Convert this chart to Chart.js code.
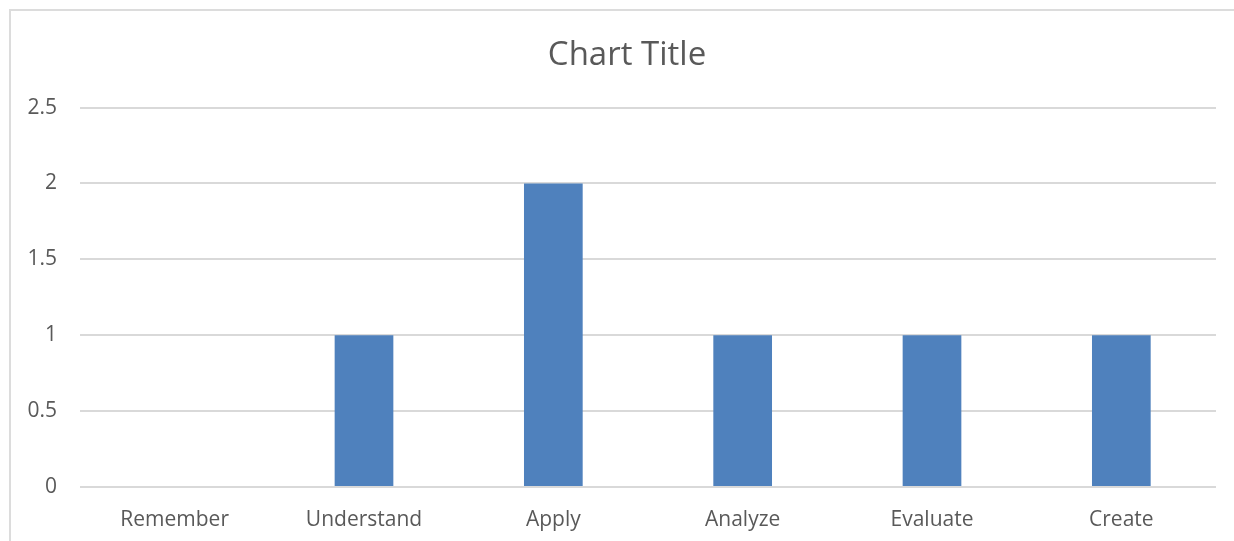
<!DOCTYPE html>
<html>
<head>
<meta charset="utf-8">
<script src="https://cdn.jsdelivr.net/npm/chart.js@4"></script>
<style>
  html, body { margin: 0; padding: 0; background: #ffffff; overflow: hidden; }
  #frame {
    position: absolute; left: 9px; top: 9px;
    width: 1225px; height: 540px;
    border-left: 2px solid #dcdcdc; border-top: 2px solid #dcdcdc;
    box-sizing: border-box;
  }
  #wrap { position: absolute; left: 0; top: 0; width: 1234px; height: 541px; }
</style>
</head>
<body>
<div id="frame"></div>
<div id="wrap"><canvas id="chart" width="1234" height="541"></canvas></div>
<script>
// Bloom's taxonomy levels and counts
const categories = ['Remember', 'Understand', 'Apply', 'Analyze', 'Evaluate', 'Create'];
const counts = [0, 1, 2, 1, 1, 1];
const yTicks = [0, 0.5, 1, 1.5, 2, 2.5];

const textColor = '#595959';
const gridColor = '#d9d9d9';
const fontFamily = '"Open Sans", "Liberation Sans", sans-serif';

new Chart(document.getElementById('chart'), {
  type: 'bar',
  data: {
    labels: categories,
    datasets: [{
      label: 'Series1',
      data: counts,
      backgroundColor: '#4F81BD',
      borderWidth: 0,
      categoryPercentage: 1,
      barPercentage: 0.31
    }]
  },
  options: {
    responsive: false,
    animation: false,
    layout: { padding: { left: 20, right: 0, top: 0, bottom: 0 } },
    plugins: {
      legend: { display: false },
      tooltip: { enabled: false },
      title: {
        display: true,
        text: 'Chart Title',
        color: textColor,
        font: { family: fontFamily, size: 33, weight: 'normal', lineHeight: 1.2 },
        padding: { top: 36, bottom: 32 }
      }
    },
    scales: {
      x: {
        grid: { display: false },
        border: { display: false },
        ticks: {
          color: textColor,
          font: { family: fontFamily, size: 21 },
          padding: 12,
          maxRotation: 0
        },
        afterFit: (scale) => { scale.height = 54; }
      },
      y: {
        min: 0,
        max: 2.5,
        afterBuildTicks: (scale) => { scale.ticks = yTicks.map(v => ({ value: v })); },
        grid: { color: gridColor, lineWidth: 2, drawTicks: false },
        border: { display: false },
        ticks: {
          color: textColor,
          font: { family: fontFamily, size: 21 },
          padding: 23,
          callback: (v) => String(v)
        },
        afterFit: (scale) => { scale.width = 60; }
      },
      // empty right-hand margin column
      yRight: {
        position: 'right',
        min: 0,
        max: 2.5,
        grid: { display: false },
        border: { display: false },
        ticks: { display: false },
        afterFit: (scale) => { scale.width = 18; }
      }
    }
  }
});
</script>
</body>
</html>
